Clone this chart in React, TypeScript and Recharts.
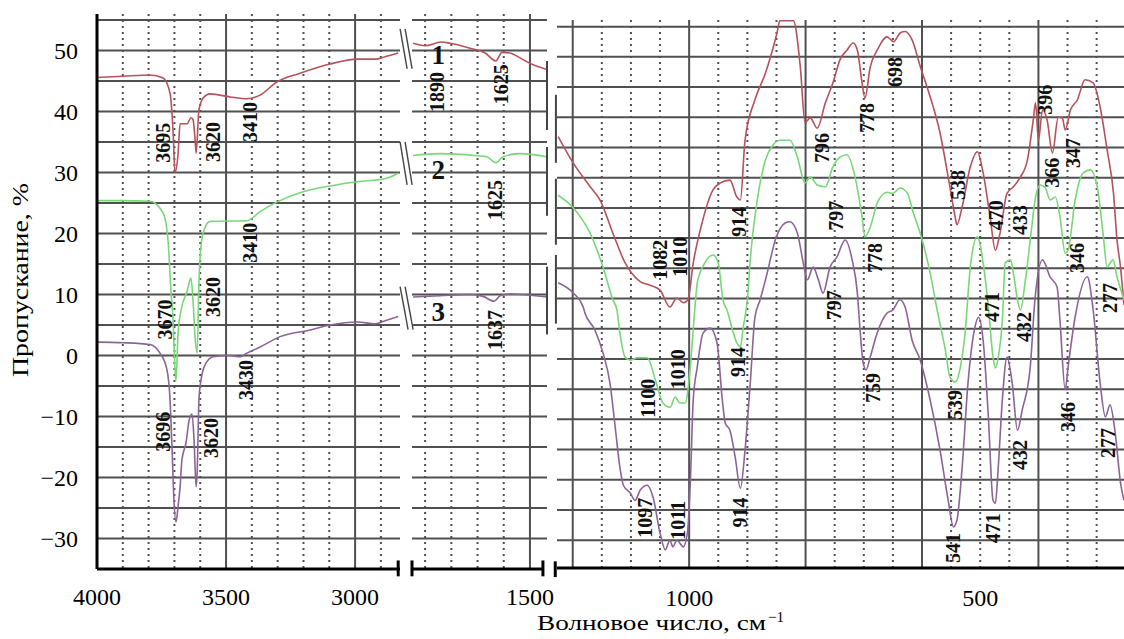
import React from 'react';
import { LineChart, Line, XAxis, YAxis, CartesianGrid, ReferenceLine, ReferenceDot } from 'recharts';

const FONT = "'Liberation Serif', 'Times New Roman', serif";
const RED = '#b5525a';
const GREEN = '#78d878';
const PURPLE = '#8b6496';
const GRID = '#505050';

type P = [number, number];

// ---------- Panel 1: 4000–2825 cm-1 ----------
const red1L: P[] = [[4000,45.6],[3899,45.8],[3795,46.0],[3744,45.5],[3717,43.0],[3705,36.5],[3698,30.0],[3686,33.0],[3678,38.0],[3651,38.0],[3636,39.0],[3628,38.7],[3620,35.4],[3616,33.2],[3605,40.3],[3589,42.2],[3562,42.9],[3484,42.4],[3419,42.1],[3368,42.7],[3302,44.9],[3213,46.3],[3097,47.8],[2992,48.6],[2922,48.6],[2884,49.0],[2833,49.6]];
const green2L: P[] = [[4000,25.4],[3899,25.4],[3795,25.3],[3744,23.4],[3725,19.0],[3713,10.3],[3706,6.4],[3698,-2.0],[3694,-4.2],[3686,3.6],[3674,7.5],[3651,10.5],[3636,12.7],[3628,9.0],[3620,3.0],[3612,0.4],[3605,12.0],[3601,15.7],[3589,20.1],[3562,22.0],[3419,22.1],[3368,23.6],[3302,25.2],[3213,26.7],[3097,27.8],[2992,28.5],[2884,29.0],[2833,29.9]];
const purple3L: P[] = [[4000,2.2],[3899,2.1],[3795,1.8],[3756,0.4],[3729,-2.3],[3717,-7.2],[3709,-15.5],[3702,-23.6],[3694,-27.3],[3686,-24.8],[3678,-21.5],[3671,-17.1],[3655,-14.3],[3643,-10.6],[3632,-9.6],[3624,-13.8],[3616,-21.5],[3612,-19.3],[3605,-7.2],[3597,-4.0],[3581,-1.5],[3550,-0.2],[3484,0.0],[3446,-0.2],[3419,0.4],[3368,1.4],[3291,3.1],[3174,4.2],[3097,5.0],[2992,5.5],[2922,5.2],[2884,5.7],[2833,6.4]];

// ---------- Panel 2: 1950–1435 cm-1 ----------
const red1M: P[] = [[1946,51.2],[1900,50.8],[1839,51.4],[1805,51.2],[1729,50.4],[1671,49.6],[1630,48.3],[1607,49.7],[1576,49.6],[1538,48.8],[1500,47.9],[1435,46.9]];
const green2M: P[] = [[1946,32.8],[1843,33.1],[1710,32.8],[1664,32.6],[1630,31.6],[1603,32.6],[1538,33.1],[1435,32.6]];
const purple3M: P[] = [[1946,9.6],[1843,9.8],[1729,10.0],[1679,9.7],[1637,8.9],[1614,9.8],[1576,10.1],[1435,9.6]];

// ---------- Panel 3: 1227–253 cm-1 ----------
const red1R: P[] = [[1225,36.8],[1199,32.4],[1170,28.5],[1153,26.3],[1131,20.8],[1110,15.9],[1084,12.8],[1067,12.2],[1050,11.4],[1033,8.6],[1021,10.1],[1010,9.3],[1002,9.8],[993,15.9],[981,21.3],[959,28.0],[947,29.1],[930,29.6],[918,26.8],[912,26.3],[904,36.2],[887,42.9],[869,47.3],[849,54.0],[844,56],[821,56],[809,48.3],[801,39.1],[792,39.9],[780,38.2],[766,42.4],[753,45.7],[741,49.5],[729,51.1],[718,52.3],[711,51.1],[703,45.7],[698,43.2],[689,48.3],[677,51.1],[660,53.3],[649,52.5],[637,54.0],[629,54.2],[617,52.8],[603,48.4],[586,43.4],[569,37.4],[555,30.1],[543,23.5],[540,22.2],[531,25.2],[517,31.8],[505,34.3],[495,30.8],[483,23.5],[474,18.0],[466,20.8],[454,27.4],[443,28.5],[431,30.1],[419,32.9],[409,39.5],[405,42.4],[400,36.2],[393,41.2],[385,39.5],[376,34.1],[366,40.0],[359,39.9],[354,37.9],[345,41.2],[333,42.9],[320,46.2],[306,45.7],[294,41.7],[282,34.6],[271,27.4],[265,19.7],[259,15.2],[253,8.9]];
const green2R: P[] = [[1225,27.1],[1199,25.0],[1170,20.8],[1148,15.2],[1131,9.8],[1124,8.1],[1119,4.3],[1110,0.3],[1101,-0.2],[1089,0.2],[1072,0.2],[1058,-3.5],[1045,-7.3],[1033,-8.0],[1024,-6.3],[1016,-7.3],[1007,-7.3],[998,-1.3],[990,8.6],[986,12.6],[973,15.9],[959,17.2],[950,15.9],[942,9.8],[935,8.1],[924,4.3],[918,2.6],[912,2.0],[907,5.3],[900,9.8],[895,16.4],[883,26.3],[869,32.9],[856,35.4],[844,36.2],[827,36.2],[814,33.4],[801,29.1],[792,30.1],[780,28.8],[766,28.5],[753,31.8],[741,33.4],[729,33.8],[715,30.1],[703,23.5],[698,20.2],[689,21.8],[677,25.8],[660,27.6],[650,27.4],[638,28.3],[625,27.4],[615,24.2],[603,20.8],[586,14.2],[574,8.1],[560,1.5],[552,-3.0],[543,-3.8],[534,-1.3],[526,4.3],[517,15.2],[505,20.2],[495,15.9],[486,8.6],[478,0.3],[474,-1.5],[469,0.3],[462,6.4],[457,15.9],[448,16.4],[443,14.2],[436,9.8],[431,8.1],[423,12.6],[414,19.7],[405,26.8],[397,28.8],[388,28.3],[380,26.3],[371,26.8],[363,23.5],[354,17.5],[349,18.0],[337,26.3],[323,30.8],[311,31.3],[299,28.5],[289,20.8],[282,15.2],[277,15.9],[272,16.4],[265,13.6],[253,9.8]];
const purple3R: P[] = [[1225,12.6],[1199,10.9],[1182,8.6],[1179,7.6],[1162,4.8],[1148,1.0],[1136,-4.0],[1127,-11.3],[1119,-17.9],[1113,-20.9],[1101,-22.2],[1093,-23.4],[1084,-21.7],[1072,-20.9],[1062,-22.9],[1050,-28.8],[1041,-31.6],[1033,-30.0],[1028,-31.1],[1021,-30.0],[1010,-31.1],[1003,-28.8],[998,-20.5],[993,-6.8],[986,-1.3],[976,4.3],[964,5.1],[952,2.6],[943,-6.8],[938,-10.6],[930,-11.8],[921,-16.2],[912,-21.4],[904,-15.1],[895,-4.0],[887,6.9],[878,9.8],[866,14.2],[852,19.7],[835,22.5],[827,22.7],[814,20.8],[804,15.9],[797,13.1],[787,15.2],[778,13.1],[770,10.9],[758,15.2],[746,16.9],[732,19.7],[720,16.4],[711,10.9],[706,4.3],[701,-0.7],[696,-1.8],[689,0.3],[677,4.3],[660,7.6],[650,8.1],[638,9.8],[629,8.6],[617,3.1],[603,-0.2],[586,-6.8],[569,-15.1],[555,-23.4],[546,-27.8],[540,-26.7],[531,-17.9],[521,-4.0],[509,5.3],[503,6.9],[495,3.1],[486,-9.6],[478,-23.4],[474,-23.9],[469,-17.9],[462,-6.8],[454,0.3],[445,-4.0],[436,-11.8],[428,-8.5],[414,-1.3],[406,9.8],[393,16.4],[380,13.6],[368,11.9],[363,6.4],[354,-5.1],[349,-1.3],[337,6.9],[316,13.6],[306,8.1],[294,-4.0],[285,-9.6],[277,-7.6],[268,-12.3],[259,-20.5],[253,-23.4]];

// ---------- Peak annotations (position in axis units, text) ----------
type Lab = [number, number, string];
const labelsL: Lab[] = [[3744,34.9,'3695'],[3550,35.0,'3620'],[3407,38.3,'3410'],[3407,18.5,'3410'],[3736,5.9,'3670'],[3550,9.6,'3620'],[3744,-12.5,'3696'],[3558,-13.5,'3620'],[3423,-4.0,'3430']];
const labelsM: Lab[] = [[1854,43.2,'1890'],[1610,44.5,'1625'],[1633,25.5,'1625'],[1633,4.2,'1637']];
const curveNames: Lab[] = [[1850,49.3,'1'],[1850,30.5,'2'],[1850,7.2,'3']];
const labelsR: Lab[] = [[1050,16.4,'1082'],[1015,16.9,'1010'],[914,22.7,'914'],[771,34.9,'796'],[747,23.7,'797'],[751,8.9,'797'],[694,39.9,'778'],[680,16.7,'778'],[646,47.5,'698'],[684,-4.8,'759'],[539,28.8,'538'],[543,-7.6,'539'],[546,-31.3,'541'],[472,23.8,'470'],[479,8.6,'471'],[478,-28.0,'471'],[431,23.0,'433'],[424,5.3,'432'],[431,-15.9,'432'],[388,42.9,'396'],[376,30.8,'366'],[340,34.1,'347'],[333,16.7,'346'],[349,-9.6,'346'],[277,10.1,'277'],[280,-13.9,'277'],[1070,-6.5,'1100'],[1019,-1.7,'1010'],[916,-0.5,'914'],[1076,-26.3,'1097'],[1019,-26.7,'1011'],[912,-25.4,'914']];

// ---------- Axes / grid values ----------
const hGrid = [55,50,45,40,35,30,25,20,15,10,5,0,-5,-10,-15,-20,-25,-30];
const yTicks = [50,40,30,20,10,0,-10,-20,-30];
const xTicksL = [4000,3500,3000];
const xTicksM = [1500];
const xTicksR = [1000,500];
const dotL = [3900,3800,3700,3600,3400,3300,3200,3100,2900];
const solidL = [3500,3000];
const dotM = [1900,1800,1700,1600];
const solidM = [1500];
const dotR = [1150,1100,1050,950,900,850,750,700,650,550,500,450,350,300];
const solidR = [1200,1000,800,600,400];
const domL: [number, number] = [2826, 4000];
const domM: [number, number] = [1435, 1950];
const domR: [number, number] = [253, 1227];
const domY: [number, number] = [-35, 56];
const domYR: [number, number] = [-34.6, 56.1];

// break marks (axis units)
type Seg = [number, number, number, number];
const slashesL: Seg[] = [[2825.6,53.56,2798.4,47.0],[2806.2,53.56,2779.1,47.0],[2825.6,35.05,2798.4,28.0],[2806.2,35.05,2779.1,28.0],[2825.6,11.3,2794.6,4.25],[2806.2,11.3,2775.2,4.25]];
const capsL: Seg[] = [[2833,-33.6,2833,-36.2]];
const barsM: Seg[] = [[1435,48.3,1435,37.0],[1401,42.75,1401,31.6],[1435,34.2,1435,22.9],[1401,29.0,1401,18.17],[1435,14.57,1435,3.43],[1401,16.5,1401,5.23]];
const capsM: Seg[] = [[1950,-33.6,1950,-36.2],[1450.5,-33.6,1450.5,-36.2]];
const axisM: Seg[] = [[1950,-35,1450.5,-35]];
const capsR: Seg[] = [[1230,-33.5,1230,-36.1]];

const pts = (a: P[]) => a.map(([x, y]) => ({ x, y }));
const fmtY = (v: number) => (v < 0 ? '\u2212' + Math.abs(v) : String(v));

const rotText = (text: string) => (p: any) => (
  <text x={p.cx} y={p.cy} transform={`rotate(-90 ${p.cx} ${p.cy})`} textAnchor="middle" dominantBaseline="central"
    fontFamily={FONT} fontSize={20} fontWeight={700} fill="#111">{text}</text>
);
const plainText = (text: string) => (p: any) => (
  <text x={p.cx} y={p.cy} textAnchor="middle" dominantBaseline="central"
    fontFamily={FONT} fontSize={27} fontWeight={700} fill="#111">{text}</text>
);

const tickStyle = { fill: '#000', fontSize: 24, fontFamily: FONT };

function grids(dots: number[], solids: number[]) {
  return [
    <CartesianGrid key="h" vertical={false} horizontalValues={hGrid} stroke={GRID} strokeWidth={2} />,
    <CartesianGrid key="vd" horizontal={false} verticalValues={dots} stroke={GRID} strokeWidth={2} strokeDasharray="2 4" />,
    <CartesianGrid key="vs" horizontal={false} verticalValues={solids} stroke={GRID} strokeWidth={2} />,
  ];
}

function segs(list: Seg[], prefix: string, w = 1.6, color = '#333') {
  return list.map((s, i) => (
    <ReferenceLine key={prefix + i} segment={[{ x: s[0], y: s[1] }, { x: s[2], y: s[3] }]}
      stroke={color} strokeWidth={w} ifOverflow="visible" />
  ));
}

function labels(list: Lab[], prefix: string, fn = rotText) {
  return list.map((l, i) => (
    <ReferenceDot key={prefix + i} x={l[0]} y={l[1]} r={1} shape={fn(l[2])} ifOverflow="visible" />
  ));
}

function series(r: P[], g: P[], p: P[]) {
  return [
    <Line key="r" data={pts(r)} dataKey="y" type="monotone" stroke={RED} strokeWidth={1.6} dot={false} isAnimationActive={false} />,
    <Line key="g" data={pts(g)} dataKey="y" type="monotone" stroke={GREEN} strokeWidth={1.6} dot={false} isAnimationActive={false} />,
    <Line key="p" data={pts(p)} dataKey="y" type="monotone" stroke={PURPLE} strokeWidth={1.6} dot={false} isAnimationActive={false} />,
  ];
}

export default function App() {
  return (
    <div style={{ position: 'absolute', left: 0, top: 0, width: 1124, height: 639, background: '#fff', overflow: 'hidden' }}>
      <div style={{ position: 'absolute', left: 0, top: 0 }}>
        <LineChart width={440} height={639} margin={{ top: 14, right: 40, bottom: 30, left: 37 }}>
          {grids(dotL, solidL)}
          <XAxis type="number" dataKey="x" domain={domL} reversed allowDataOverflow ticks={xTicksL} interval={0}
            height={40} tickLine={false} tickSize={0} tickMargin={19} tick={tickStyle}
            axisLine={{ stroke: '#000', strokeWidth: 3 }} />
          <YAxis type="number" domain={domY} allowDataOverflow ticks={yTicks} interval={0} width={60}
            tickLine={false} tickSize={0} tickMargin={19} tick={tickStyle} tickFormatter={fmtY}
            axisLine={{ stroke: '#000', strokeWidth: 3 }} />
          {series(red1L, green2L, purple3L)}
          {segs(slashesL, 'sl', 1.4, '#444')}
          {segs(capsL, 'cl', 3, '#000')}
          {labels(labelsL, 'll')}
        </LineChart>
      </div>
      <div style={{ position: 'absolute', left: 380, top: 0 }}>
        <LineChart width={200} height={639} margin={{ top: 14, right: 33, bottom: 30, left: 32 }}>
          {grids(dotM, solidM)}
          <XAxis type="number" dataKey="x" domain={domM} reversed allowDataOverflow ticks={xTicksM} interval={0}
            height={40} tickLine={false} tickSize={0} tickMargin={19} tick={tickStyle} axisLine={false} />
          <YAxis type="number" domain={domY} allowDataOverflow hide />
          {series(red1M, green2M, purple3M)}
          {segs(axisM, 'am', 3, '#000')}
          {segs(capsM, 'cm', 3, '#000')}
          {segs(barsM, 'bm', 2, '#444')}
          {labels(labelsM, 'lm')}
          {labels(curveNames, 'cn', plainText)}
        </LineChart>
      </div>
      <div style={{ position: 'absolute', left: 540, top: 0 }}>
        <LineChart width={584} height={639} margin={{ top: 20, right: 0, bottom: 31, left: 17 }}>
          {grids(dotR, solidR)}
          <XAxis type="number" dataKey="x" domain={domR} reversed allowDataOverflow ticks={xTicksR} interval={0}
            height={40} tickLine={false} tickSize={0} tickMargin={21} tick={tickStyle}
            axisLine={{ stroke: '#000', strokeWidth: 3 }} />
          <YAxis type="number" domain={domYR} allowDataOverflow hide />
          {series(red1R, green2R, purple3R)}
          {segs(capsR, 'cr', 3, '#000')}
          {labels(labelsR, 'lr')}
        </LineChart>
      </div>
      <svg width={1124} height={639} style={{ position: 'absolute', left: 0, top: 0, pointerEvents: 'none' }}>
        <text x={28} y={280} transform="rotate(-90 28 280)" textAnchor="middle" fontFamily={FONT} fontSize={24}
          textLength={194} lengthAdjust="spacingAndGlyphs" fill="#000">Пропускание, %</text>
        <text x={537} y={630} fontFamily={FONT} fontSize={22} textLength={229} lengthAdjust="spacingAndGlyphs" fill="#000">Волновое число, см</text>
        <text x={768} y={622} fontFamily={FONT} fontSize={15} fill="#000">{'\u2212'}1</text>
      </svg>
    </div>
  );
}
